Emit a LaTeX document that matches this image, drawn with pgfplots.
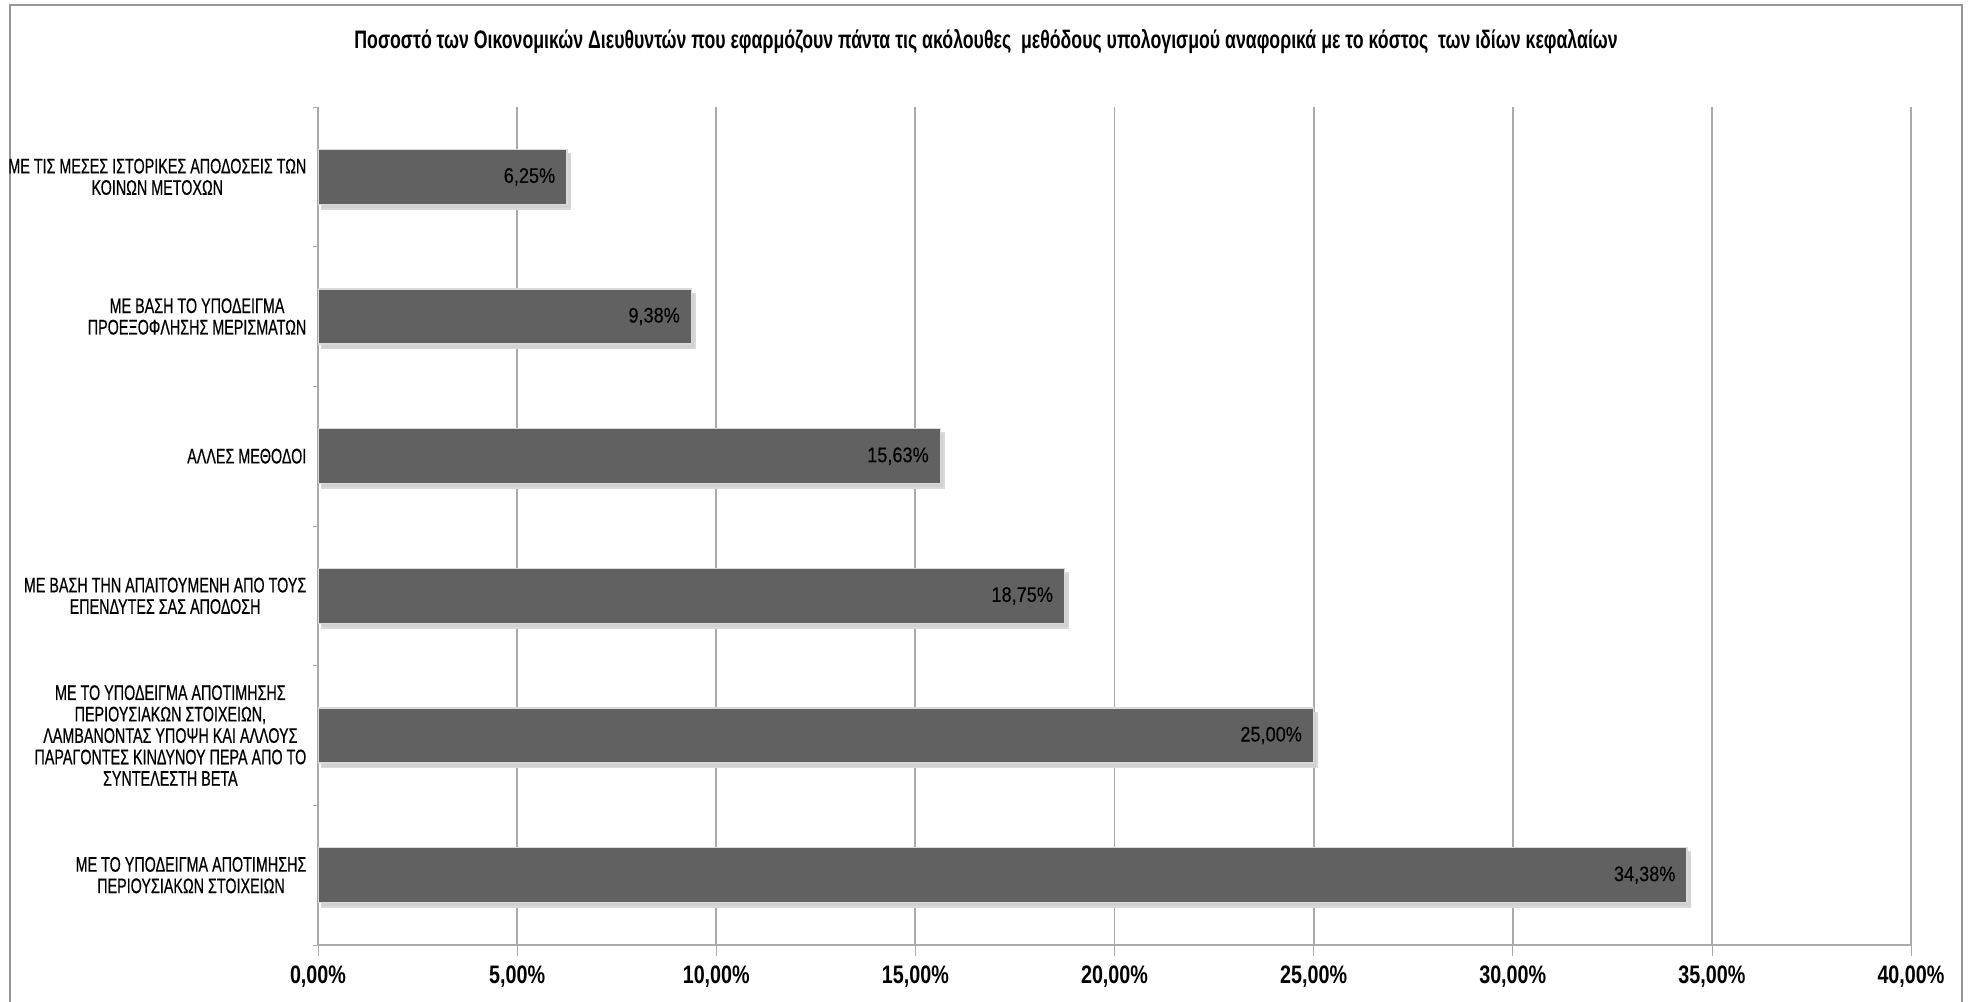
\documentclass[border=0pt]{standalone}
\usepackage{pgfplots}
\pgfplotsset{compat=1.18}
\usepackage{fontspec}
\setmainfont{Liberation Sans}
\newfontfamily\narrowfont{Liberation Sans}[FakeStretch=0.78]
\newfontfamily\titlefont{Liberation Sans}[FakeStretch=0.70]
\newfontfamily\labelfont{Liberation Sans}[FakeStretch=0.68, FakeBold=0.5]
\newfontfamily\valfont{Liberation Sans}[FakeStretch=0.86, FakeBold=0.2]
\definecolor{barc}{RGB}{97,97,97}
\definecolor{gridc}{RGB}{170,170,170}
\definecolor{framec}{RGB}{150,150,150}
\begin{document}
\begin{tikzpicture}
\useasboundingbox (0,0) rectangle (19.68cm,10.02cm);
\draw[framec, line width=0.2mm] (0.1cm,-0.2cm) -- (0.1cm,9.97cm) -- (19.62cm,9.97cm) -- (19.62cm,-0.2cm);
\node[font=\titlefont\bfseries\fontsize{7.2}{8}\selectfont, inner sep=0pt] at (9.86cm,9.60cm) {Ποσοστό των Οικονομικών Διευθυντών που εφαρμόζουν πάντα τις ακόλουθες\ \ μεθόδους υπολογισμού αναφορικά με το κόστος\ \ των ιδίων κεφαλαίων};
\begin{axis}[at={(3.18cm,0.57cm)}, anchor=south west, scale only axis,
  width=15.93cm, height=8.38cm,
  xbar, bar width=5.5mm,
  xmin=0, xmax=40, ymin=-0.5, ymax=5.5,
  axis lines*=left, axis line style={gridc, -},
  xtick={0,5,...,40}, ytick={0,...,5},
  yticklabels={
    {ΜΕ ΤΟ ΥΠΟΔΕΙΓΜΑ ΑΠΟΤΙΜΗΣΗΣ\\ΠΕΡΙΟΥΣΙΑΚΩΝ ΣΤΟΙΧΕΙΩΝ},
    {ΜΕ ΤΟ ΥΠΟΔΕΙΓΜΑ ΑΠΟΤΙΜΗΣΗΣ\\ΠΕΡΙΟΥΣΙΑΚΩΝ ΣΤΟΙΧΕΙΩΝ,\\ΛΑΜΒΑΝΟΝΤΑΣ ΥΠΟΨΗ ΚΑΙ ΑΛΛΟΥΣ\\ΠΑΡΑΓΟΝΤΕΣ ΚΙΝΔΥΝΟΥ ΠΕΡΑ ΑΠΟ ΤΟ\\ΣΥΝΤΕΛΕΣΤΗ ΒΕΤΑ},
    {ΜΕ ΒΑΣΗ ΤΗΝ ΑΠΑΙΤΟΥΜΕΝΗ ΑΠΟ ΤΟΥΣ\\ΕΠΕΝΔΥΤΕΣ ΣΑΣ ΑΠΟΔΟΣΗ},
    {ΑΛΛΕΣ ΜΕΘΟΔΟΙ},
    {ΜΕ ΒΑΣΗ ΤΟ ΥΠΟΔΕΙΓΜΑ\\ΠΡΟΕΞΟΦΛΗΣΗΣ ΜΕΡΙΣΜΑΤΩΝ},
    {ΜΕ ΤΙΣ ΜΕΣΕΣ ΙΣΤΟΡΙΚΕΣ ΑΠΟΔΟΣΕΙΣ ΤΩΝ\\ΚΟΙΝΩΝ ΜΕΤΟΧΩΝ}},
  minor ytick={-0.5,0.5,...,5.5},
  tick align=outside, major tick length=1.1mm, minor tick length=0.5mm,
  major y tick style={draw=none}, minor y tick style={gridc},
  major x tick style={gridc},
  xmajorgrids, major x grid style={gridc, line width=0.5pt},
  /pgf/number format/assume math mode=true,
  xticklabel={\pgfmathprintnumber[fixed,fixed zerofill,precision=2,use comma]{\tick}\%},
  xticklabel style={font=\narrowfont\bfseries\fontsize{7.2}{8}\selectfont, yshift=0.3mm},
  yticklabel style={font=\labelfont\fontsize{6}{6.1}\selectfont, align=center, inner sep=0pt, xshift=0mm},
  point meta=x,
  nodes near coords={\pgfmathprintnumber[fixed,fixed zerofill,precision=2,use comma]{\pgfplotspointmeta}\%},
  nodes near coords style={font=\valfont\fontsize{6}{7}\selectfont, anchor=east, inner sep=0pt, xshift=-1.1mm, text=black},
]
\addplot[fill=barc, draw=white!85!black, line width=0.4pt,
  preaction={fill=black!18, transform canvas={xshift=0.35mm, yshift=-0.45mm}}]
  coordinates {(34.38,0) (25.00,1) (18.75,2) (15.63,3) (9.38,4) (6.25,5)};
\end{axis}
\end{tikzpicture}
\end{document}
